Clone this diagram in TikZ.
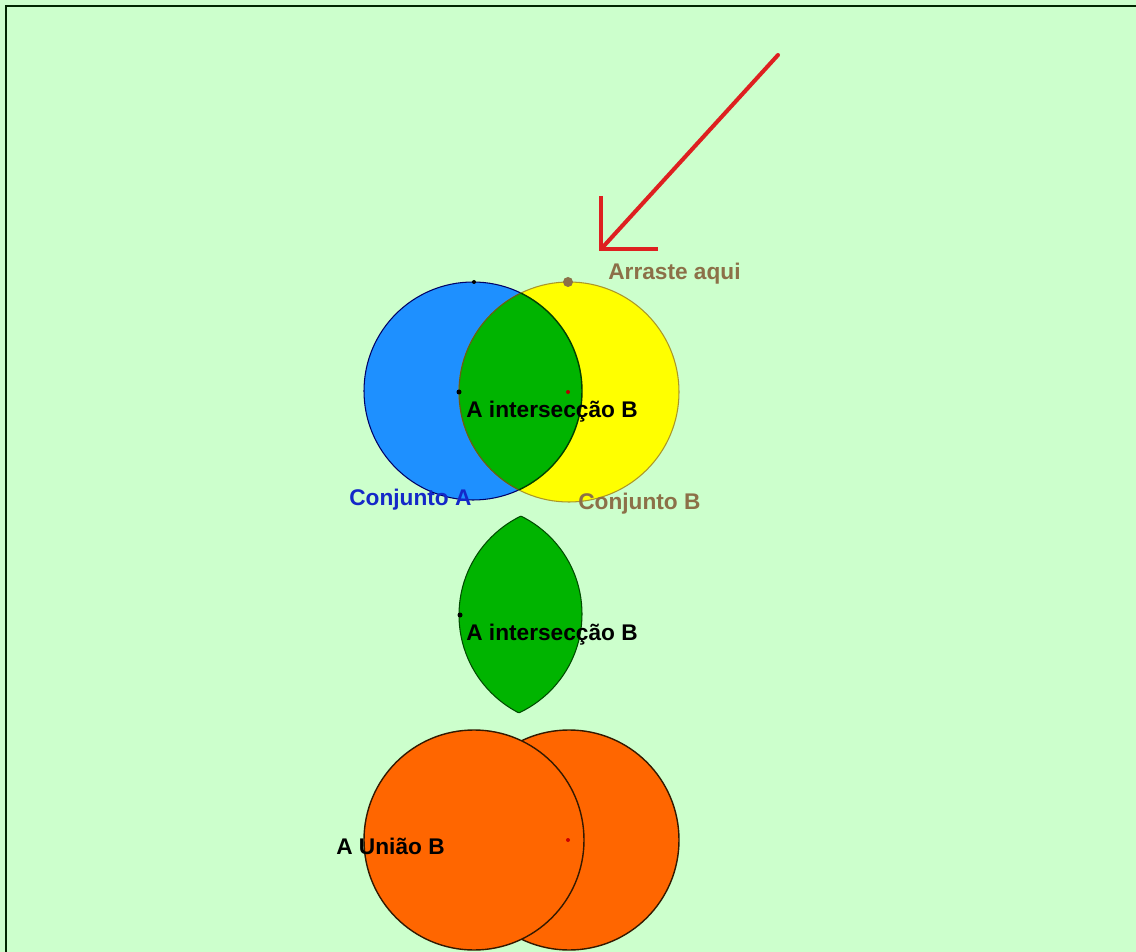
\documentclass[tikz,border=0pt]{standalone}
\usepackage{fontspec}
\setmainfont{Liberation Sans}

\definecolor{paper}{RGB}{204,255,204}
\definecolor{setA}{RGB}{30,144,255}
\definecolor{setB}{RGB}{255,255,0}
\definecolor{lens}{RGB}{0,180,0}
\definecolor{union}{RGB}{255,102,0}
\definecolor{drag}{RGB}{140,112,72}
\definecolor{pointer}{RGB}{222,32,32}
\definecolor{nameA}{RGB}{20,40,200}
\definecolor{rimB}{RGB}{170,150,40}

\begin{document}
\begin{tikzpicture}[x=0.02cm,y=-0.02cm]

\useasboundingbox (0,0) rectangle (1136,952);

% Background and frame

\fill[paper] (0,0) rectangle (1136,952);

\draw[line width=1.5pt, black!85!green] (6,952) -- (6,6) -- (1136,6);


%%% Labels

\tikzstyle{setlabel}=[inner sep=0pt, anchor=west, font=\fontsize{12.9}{15}\selectfont\bfseries]


%%% Set A and Set B

\filldraw[fill=setA, draw=blue!40!black, semithick] (473,391) circle (109);

\filldraw[fill=setB, draw=rimB, semithick] (569,392) circle (110);


% Intersection on the sets

\begin{scope}
\clip (473,391) circle (109);
\fill[lens] (569,392) circle (110);
\draw[rimB!60!black, semithick] (569,392) circle (110);
\end{scope}

\begin{scope}
\clip (569,392) circle (110);
\draw[black!75!green, thick] (473,391) circle (109);
\end{scope}


% Points on the sets

\fill[black] (474,282) circle (2);
\fill[black] (459,392) circle (2.5);
\fill[red!70!black] (568,392) circle (2);
\fill[drag] (568,282) circle (5);


% Intersection alone

\begin{scope}[shift={(0,223)}]
\clip (473,391) circle (109);
\fill[lens] (569,392) circle (110);
\draw[black!70!green, semithick] (569,392) circle (110);
\end{scope}

\begin{scope}[shift={(0,223)}]
\clip (569,392) circle (110);
\draw[black!70!green, semithick] (473,391) circle (109);
\end{scope}

\fill[black] (460,615) circle (2.5);


% Union

\filldraw[fill=union, draw=black!80!orange, thick] (569,840) circle (110);

\filldraw[fill=union, draw=black!80!orange, thick] (474,840) circle (110);

\fill[red!80!black] (568,840) circle (2);


%%% Texts

\node (drag) [setlabel, text=drag] at (608,274) {Arraste aqui};

\node (nameA) [setlabel, text=nameA] at (349,500) {Conjunto A};
\node (nameB) [setlabel, text=drag] at (578,504) {Conjunto B};

\node (inter) [setlabel, text=black] at (466,412) {A intersecção B};
\node (inter2) [setlabel, text=black] at (466,635) {A intersecção B};

\node (uni) [setlabel, text=black] at (336,846) {A União B};


% Pointer

\draw[pointer, line width=2.3pt, line cap=round]
(778,55) -- (602,248);

\draw[pointer, line width=2.3pt]
(601,196) -- (601,249) -- (658,249);

\end{tikzpicture}
\end{document}
